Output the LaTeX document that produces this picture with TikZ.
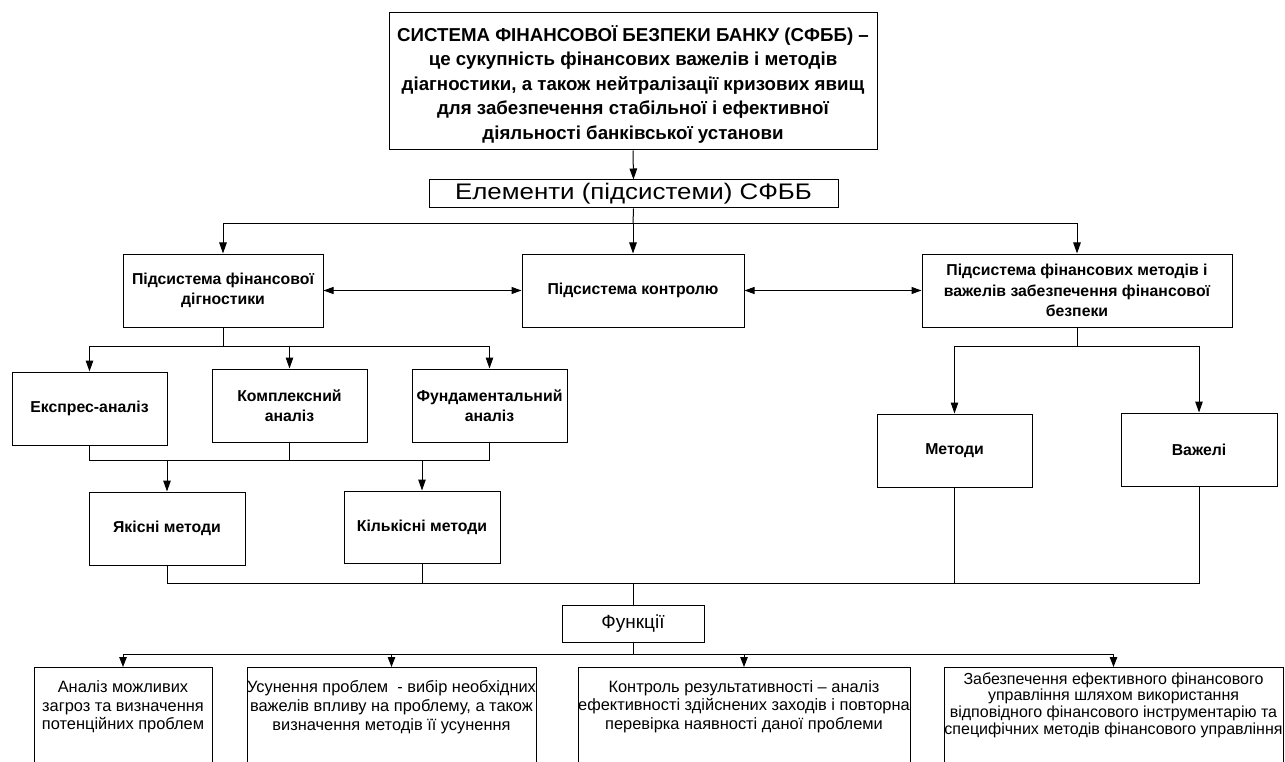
\documentclass[tikz,border=0pt]{standalone}
\usepackage{fontspec}
\setmainfont{Liberation Sans}
\newfontfamily\widefont[FakeStretch=1.15]{Liberation Sans}
\usetikzlibrary{arrows.meta}
\begin{document}
\begin{tikzpicture}[x=1pt,y=-1pt,line width=1pt,
  box/.style={draw, line width=1pt, inner sep=0pt, align=center, fill=white},
  topbox/.style={box, font=\bfseries\fontsize{18.7}{24.5}\selectfont},
  sub/.style={box, font=\bfseries\fontsize{15.8}{20.5}\selectfont},
  plain/.style={inner sep=0pt, align=center, font=\fontsize{16.4}{18.7}\selectfont},
  arr/.style={-{Triangle[length=11pt,width=7.5pt]}},
  arrs/.style={-{Triangle[length=10pt,width=7.5pt]}},
  darr/.style={{Triangle[length=10pt,width=7pt]}-{Triangle[length=10pt,width=7pt]}}]
\useasboundingbox (0,0) rectangle (1285,762);
\fill[white] (0,0) rectangle (1285,762);
\clip (0,0) rectangle (1285,762);

% top
\node[draw, line width=1pt, minimum width=488pt, minimum height=137pt, inner sep=0pt] (top) at (633,81.5) {};
\node[inner sep=0pt, align=center, font=\bfseries\fontsize{18.7}{24.5}\selectfont] (toptext) at (633,84)
 {СИСТЕМА ФІНАНСОВОЇ БЕЗПЕКИ БАНКУ (СФББ) –\\
  це сукупність фінансових важелів і методів\\
  діагностики, а також нейтралізації кризових явищ\\
  для забезпечення стабільної і ефективної\\
  діяльності банківської установи};
\node[box, minimum width=409pt, minimum height=28pt, font=\widefont\fontsize{22.5}{24}\selectfont] (elem) at (633.5,194)
 {Елементи (підсистеми) СФББ};

% subsystems
\node[sub, minimum width=200pt, minimum height=73pt] (dig) at (223,290.5)
 {Підсистема фінансової\\дігностики};
\node[sub, minimum width=222pt, minimum height=73pt] (ctrl) at (633,290.5)
 {Підсистема контролю};
\node[sub, minimum width=310pt, minimum height=73pt] (fin) at (1077,290.5)
 {Підсистема фінансових методів і\\важелів забезпечення фінансової\\безпеки};

% analyses
\node[sub, minimum width=155pt, minimum height=73pt] (eksp) at (89.5,408.5) {Експрес-аналіз};
\node[sub, minimum width=155pt, minimum height=73pt] (kompl) at (289.5,405.5) {Комплексний\\аналіз};
\node[sub, minimum width=155pt, minimum height=73pt] (fund) at (489.5,405.5) {Фундаментальний\\аналіз};

\node[sub, minimum width=156pt, minimum height=73pt] (yak) at (167,528.5) {Якісні методи};
\node[sub, minimum width=156pt, minimum height=72pt] (kil) at (422,527) {Кількісні методи};

\node[sub, minimum width=155pt, minimum height=73pt] (metody) at (954.5,450.5) {Методи};
\node[sub, minimum width=156pt, minimum height=73pt] (vazh) at (1199,449.5) {Важелі};

% functions
\node[box, minimum width=142pt, minimum height=37pt, font=\fontsize{19}{22}\selectfont] (funk) at (633,623.5) {Функції};

\node[draw, line width=1pt, minimum width=178pt, minimum height=140pt, anchor=north] (b1) at (123,667) {};
\node[draw, line width=1pt, minimum width=289pt, minimum height=140pt, anchor=north] (b2) at (391.5,667) {};
\node[draw, line width=1pt, minimum width=332pt, minimum height=140pt, anchor=north] (b3) at (744,667) {};
\node[draw, line width=1pt, minimum width=339pt, minimum height=140pt, anchor=north] (b4) at (1113.5,667) {};

\node[plain] (b1t) at (123,707) {Аналіз можливих\\загроз та визначення\\потенційних проблем};
\node[plain] (b2t) at (391.5,707) {Усунення проблем~ - вибір необхідних\\важелів впливу на проблему, а також\\визначення методів її усунення};
\node[plain] (b3t) at (744,706.5) {Контроль результативності – аналіз\\ефективності здійснених заходів і повторна\\перевірка наявності даної проблеми};
\node[plain, font=\fontsize{16}{16.7}\selectfont] (b4t) at (1113.5,705)
 {Забезпечення ефективного фінансового\\управління шляхом використання\\відповідного фінансового інструментарію та\\специфічних методів фінансового управління};

% junctions
\coordinate (j1) at (633,224);
\coordinate (j2) at (223,346);
\coordinate (j3) at (289.5,460);
\coordinate (j4) at (1077,346);
\coordinate (j5) at (633,583);
\coordinate (j6) at (633,654);

% connectors
\draw[arr] (top.south) -- (elem.north);
\draw (elem.south) -- (j1);
\draw[arr] (j1) -| (dig.north);
\draw[arr] (j1) -- (ctrl.north);
\draw[arr] (j1) -| (fin.north);
\draw[darr] (dig.east) -- (ctrl.west);
\draw[darr] (ctrl.east) -- (fin.west);

\draw (dig.south) -- (j2);
\draw[arr] (j2) -| (eksp.north);
\draw[arr] (j2) -| (kompl.north);
\draw[arr] (j2) -| (fund.north);

\draw (kompl.south) -- (j3);
\draw (eksp.south) |- (j3);
\draw (fund.south) |- (j3);
\draw[arr] (yak.north |- j3) -- (yak.north);
\draw[arr] (kil.north |- j3) -- (kil.north);

\draw (fin.south) -- (j4);
\draw[arr] (j4) -| (metody.north);
\draw[arr] (j4) -| (vazh.north);

\draw (yak.south) |- (j5);
\draw (kil.south) |- (j5);
\draw (metody.south) |- (j5);
\draw (vazh.south) |- (j5);
\draw (j5) -- (funk.north);

\draw (funk.south) -- (j6);
\draw[arrs] (j6) -| (b1.north);
\draw[arrs] (j6) -| (b2.north);
\draw[arrs] (j6) -| (b3.north);
\draw[arrs] (j6) -| (b4.north);
\end{tikzpicture}
\end{document}
